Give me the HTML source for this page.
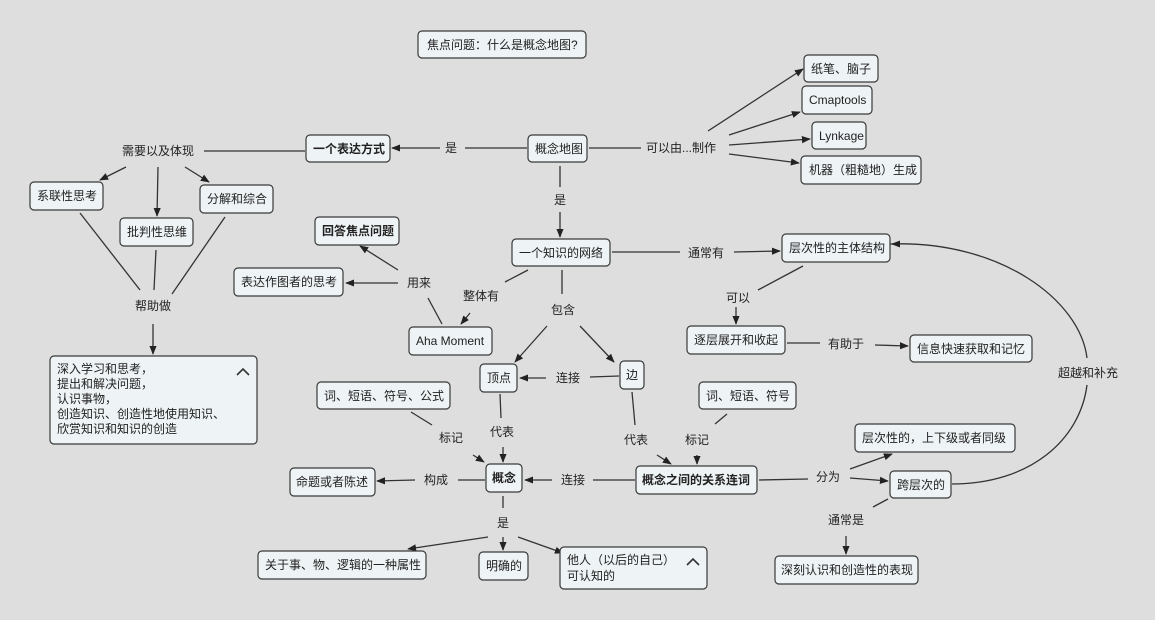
<!DOCTYPE html>
<html><head><meta charset="utf-8"><style>
body{margin:0;background:#dfdede;}
svg{display:block;font-family:"Liberation Sans","Noto Sans CJK SC",sans-serif;font-size:12px;}
.n{fill:#eef3f5;stroke:#3a3a3a;stroke-width:1.2;}
.e{stroke:#333;stroke-width:1.3;fill:none;}
.a{stroke:#333;stroke-width:1.3;fill:none;marker-end:url(#m);}
text{fill:#222;}
.b{font-weight:bold;}
</style></head><body>
<svg width="1155" height="620" viewBox="0 0 1155 620">
<defs><marker id="m" viewBox="0 0 10 10" refX="9" refY="5" markerWidth="9" markerHeight="9" markerUnits="userSpaceOnUse" orient="auto"><path d="M0,1 L10,5 L0,9 z" fill="#222"/></marker></defs>

<!-- edges -->
<path class="a" d="M440,148 L392,148"/><path class="e" d="M465,148 L527,148"/>
<path class="e" d="M589,148 L641,148"/>
<path class="a" d="M708,131 L803,69"/><path class="a" d="M729,135 L800,112"/>
<path class="a" d="M729,145 L810,139"/><path class="a" d="M729,154 L799,163"/>
<path class="e" d="M560,166 L560,187"/><path class="a" d="M560,212 L560,237"/>
<path class="e" d="M612,252 L680,252"/><path class="a" d="M734,252 L780,251"/>
<path class="e" d="M803,266 L758,290"/><path class="a" d="M736,307 L736,324"/>
<path class="e" d="M787,343 L820,343"/><path class="a" d="M875,345 L908,346"/>
<path class="e" d="M890,244 C1000,240 1080,300 1087,358"/>
<path class="e" d="M952,484 C1030,484 1080,440 1087,385"/>
<path class="a" d="M900,244 L892,244"/>
<path class="e" d="M305,151 L204,151"/>
<path class="a" d="M126,167 L100,180"/><path class="a" d="M158,167 L157,216"/><path class="a" d="M185,167 L209,182"/>
<path class="e" d="M80,213 L140,290"/><path class="e" d="M156,250 L154,290"/><path class="e" d="M225,217 L172,294"/>
<path class="a" d="M153,324 L153,354"/>
<path class="a" d="M398,270 L360,246"/><path class="a" d="M398,283 L346,283"/>
<path class="e" d="M428,298 L442,324"/>
<path class="e" d="M528,270 L505,282"/><path class="a" d="M470,313 L461,324"/>
<path class="e" d="M562,270 L562,294"/>
<path class="a" d="M547,326 L515,362"/><path class="a" d="M580,326 L614,362"/>
<path class="a" d="M546,378 L520,378"/><path class="e" d="M590,377 L619,376"/>
<path class="e" d="M500,394 L501,418"/><path class="a" d="M503,447 L503,462"/>
<path class="e" d="M411,412 L432,425"/><path class="a" d="M473,455 L484,462"/>
<path class="e" d="M632,392 L635,425"/><path class="a" d="M657,455 L671,464"/>
<path class="e" d="M727,414 L715,424"/><path class="a" d="M697,455 L697,464"/>
<path class="e" d="M635,480 L593,480"/><path class="a" d="M552,480 L525,480"/>
<path class="e" d="M485,480 L458,480"/><path class="a" d="M415,480 L377,481"/>
<path class="e" d="M759,480 L808,479"/>
<path class="a" d="M850,469 L892,454"/><path class="a" d="M850,478 L888,481"/>
<path class="e" d="M888,499 L873,507"/><path class="a" d="M846,536 L846,554"/>
<path class="e" d="M503,496 L503,508"/><path class="a" d="M488,537 L408,549"/>
<path class="a" d="M503,537 L503,550"/><path class="a" d="M518,537 L563,553"/>

<!-- nodes -->
<g>
<rect class="n" x="418" y="31" width="168" height="27" rx="4"/><text x="427" y="49">焦点问题：什么是概念地图?</text>
<rect class="n" x="804" y="55" width="74" height="27" rx="4"/><text x="811" y="73">纸笔、脑子</text>
<rect class="n" x="802" y="86" width="70" height="28" rx="4"/><text x="809" y="104">Cmaptools</text>
<rect class="n" x="812" y="122" width="54" height="27" rx="4"/><text x="819" y="140">Lynkage</text>
<rect class="n" x="801" y="156" width="120" height="28" rx="4"/><text x="809" y="174">机器（粗糙地）生成</text>
<rect class="n" x="306" y="135" width="84" height="27" rx="4"/><text class="b" x="313" y="153">一个表达方式</text>
<rect class="n" x="528" y="135" width="59" height="27" rx="4"/><text x="535" y="153">概念地图</text>
<rect class="n" x="30" y="182" width="73" height="28" rx="4"/><text x="37" y="200">系联性思考</text>
<rect class="n" x="200" y="185" width="73" height="28" rx="4"/><text x="207" y="203">分解和综合</text>
<rect class="n" x="120" y="218" width="73" height="28" rx="4"/><text x="127" y="236">批判性思维</text>
<rect class="n" x="315" y="217" width="84" height="28" rx="4"/><text class="b" x="322" y="235">回答焦点问题</text>
<rect class="n" x="512" y="239" width="98" height="27" rx="4"/><text x="519" y="257">一个知识的网络</text>
<rect class="n" x="782" y="234" width="108" height="28" rx="4"/><text x="789" y="252">层次性的主体结构</text>
<rect class="n" x="234" y="268" width="109" height="28" rx="4"/><text x="241" y="286">表达作图者的思考</text>
<rect class="n" x="409" y="327" width="83" height="28" rx="4"/><text x="416" y="345">Aha Moment</text>
<rect class="n" x="687" y="326" width="98" height="28" rx="4"/><text x="694" y="344">逐层展开和收起</text>
<rect class="n" x="910" y="335" width="122" height="27" rx="4"/><text x="917" y="353">信息快速获取和记忆</text>
<rect class="n" x="50" y="356" width="207" height="88" rx="4"/>
<text x="57" y="373">深入学习和思考，</text><text x="57" y="388">提出和解决问题，</text><text x="57" y="403">认识事物，</text><text x="57" y="418">创造知识、创造性地使用知识、</text><text x="57" y="433">欣赏知识和知识的创造</text>
<path class="e" d="M237,375 L243,369 L249,375" style="stroke-width:1.6"/>
<rect class="n" x="480" y="364" width="37" height="28" rx="4"/><text x="487" y="382">顶点</text>
<rect class="n" x="620" y="361" width="24" height="28" rx="4"/><text x="626" y="379">边</text>
<rect class="n" x="317" y="382" width="133" height="27" rx="4"/><text x="324" y="400">词、短语、符号、公式</text>
<rect class="n" x="699" y="382" width="97" height="27" rx="4"/><text x="706" y="400">词、短语、符号</text>
<rect class="n" x="855" y="424" width="160" height="28" rx="4"/><text x="862" y="442">层次性的，上下级或者同级</text>
<rect class="n" x="486" y="464" width="36" height="28" rx="4"/><text class="b" x="492" y="482">概念</text>
<rect class="n" x="636" y="466" width="121" height="28" rx="4"/><text class="b" x="642" y="484">概念之间的关系连词</text>
<rect class="n" x="290" y="468" width="85" height="28" rx="4"/><text x="296" y="486">命题或者陈述</text>
<rect class="n" x="890" y="471" width="61" height="27" rx="4"/><text x="897" y="489">跨层次的</text>
<rect class="n" x="258" y="551" width="168" height="28" rx="4"/><text x="265" y="569">关于事、物、逻辑的一种属性</text>
<rect class="n" x="479" y="552" width="49" height="28" rx="4"/><text x="486" y="570">明确的</text>
<rect class="n" x="560" y="547" width="147" height="42" rx="4"/><text x="567" y="564">他人（以后的自己）</text><text x="567" y="580">可认知的</text>
<path class="e" d="M687,565 L693,559 L699,565" style="stroke-width:1.6"/>
<rect class="n" x="775" y="556" width="143" height="28" rx="4"/><text x="781" y="574">深刻认识和创造性的表现</text>
</g>

<!-- labels -->
<g text-anchor="middle">
<text x="158" y="155">需要以及体现</text>
<text x="451" y="152">是</text>
<text x="681" y="152">可以由...制作</text>
<text x="560" y="204">是</text>
<text x="706" y="257">通常有</text>
<text x="738" y="302">可以</text>
<text x="846" y="348">有助于</text>
<text x="419" y="287">用来</text>
<text x="481" y="300">整体有</text>
<text x="563" y="314">包含</text>
<text x="153" y="310">帮助做</text>
<text x="568" y="382">连接</text>
<text x="502" y="436">代表</text>
<text x="451" y="442">标记</text>
<text x="636" y="444">代表</text>
<text x="697" y="444">标记</text>
<text x="436" y="484">构成</text>
<text x="573" y="484">连接</text>
<text x="828" y="481">分为</text>
<text x="503" y="527">是</text>
<text x="846" y="524">通常是</text>
<text x="1088" y="377">超越和补充</text>
</g>
</svg>
</body></html>
